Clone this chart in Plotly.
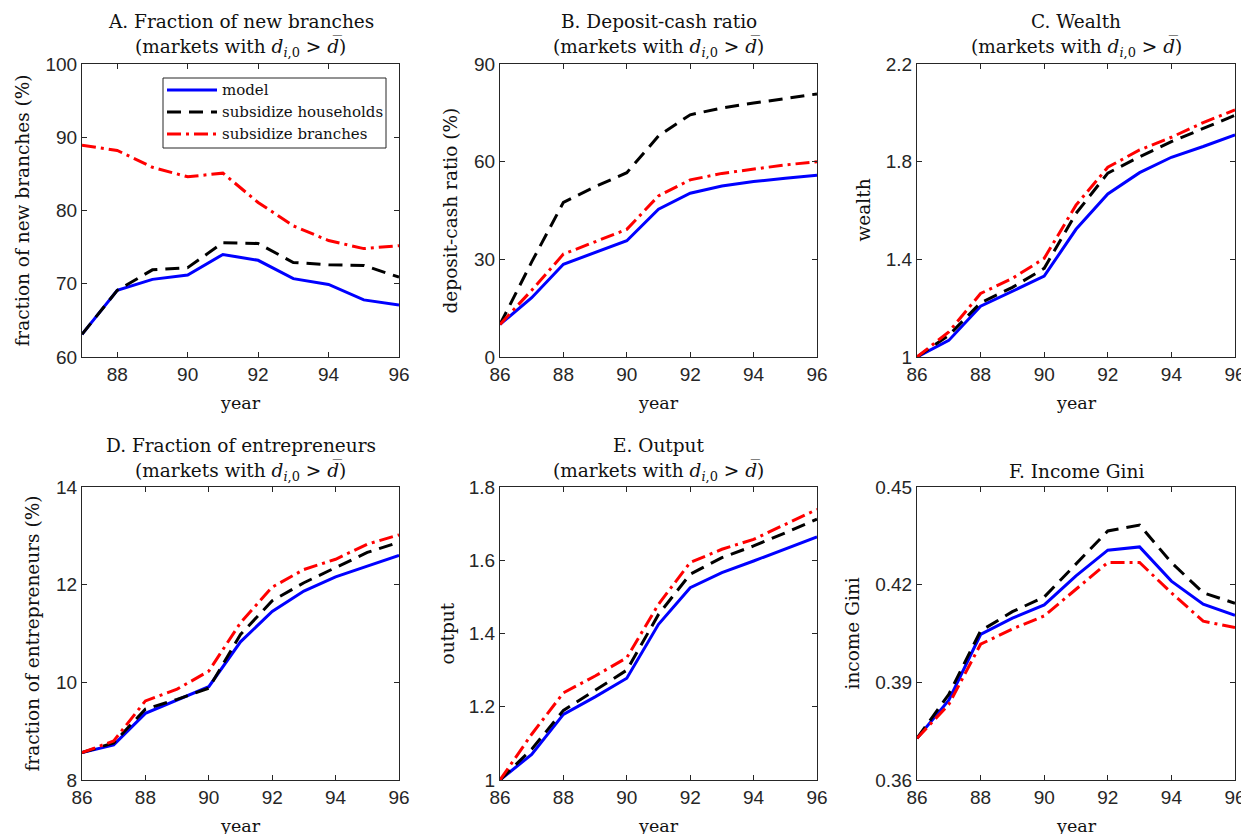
import plotly.graph_objects as go

years = list(range(86, 97))
years_a = list(range(87, 97))

# A. fraction of new branches (%), starts 87
branches_model = [63.1, 69.1, 70.6, 71.2, 74.0, 73.2, 70.7, 69.9, 67.8, 67.1]
branches_hh = [63.1, 69.1, 71.9, 72.2, 75.6, 75.5, 72.9, 72.6, 72.5, 70.9]
branches_br = [88.9, 88.2, 85.9, 84.6, 85.1, 81.1, 77.9, 75.9, 74.8, 75.2]

# B. deposit-cash ratio (%)
dep_model = [10.0, 18.2, 28.5, 32.1, 35.7, 45.4, 50.3, 52.5, 53.9, 54.9, 55.8]
dep_hh = [10.0, 29.2, 47.5, 52.3, 56.6, 67.9, 74.4, 76.5, 78.0, 79.4, 80.8]
dep_br = [10.0, 20.5, 31.6, 35.4, 39.2, 49.5, 54.4, 56.4, 57.8, 59.0, 60.0]

# C. wealth
wealth_model = [1.0, 1.068, 1.208, 1.27, 1.331, 1.523, 1.668, 1.755, 1.818, 1.862, 1.91]
wealth_hh = [1.0, 1.089, 1.222, 1.285, 1.363, 1.588, 1.753, 1.82, 1.882, 1.937, 1.99]
wealth_br = [1.0, 1.103, 1.26, 1.322, 1.404, 1.622, 1.777, 1.848, 1.9, 1.96, 2.012]

# D. fraction of entrepreneurs (%)
entr_model = [8.56, 8.72, 9.365, 9.64, 9.91, 10.83, 11.45, 11.87, 12.16, 12.38, 12.6]
entr_hh = [8.56, 8.76, 9.45, 9.65, 9.88, 10.98, 11.67, 12.04, 12.35, 12.66, 12.87]
entr_br = [8.56, 8.8, 9.62, 9.86, 10.23, 11.22, 11.95, 12.31, 12.52, 12.83, 13.02]

# E. output
out_model = [1.0, 1.07, 1.179, 1.227, 1.278, 1.425, 1.525, 1.566, 1.598, 1.63, 1.664]
out_hh = [1.0, 1.084, 1.19, 1.245, 1.3, 1.452, 1.562, 1.607, 1.639, 1.675, 1.712]
out_br = [1.0, 1.125, 1.238, 1.284, 1.334, 1.48, 1.594, 1.63, 1.657, 1.698, 1.739]

# F. income Gini
gini_model = [0.3728, 0.3845, 0.4047, 0.4097, 0.4138, 0.4227, 0.4306, 0.4316, 0.4211, 0.4140, 0.4106]
gini_hh = [0.3728, 0.3863, 0.4058, 0.4117, 0.4162, 0.4263, 0.4365, 0.4383, 0.4268, 0.4175, 0.4143]
gini_br = [0.3728, 0.3832, 0.4017, 0.4064, 0.4104, 0.4186, 0.4268, 0.4268, 0.4175, 0.4088, 0.4068]

OFF = 8  # page body margin; positions below are page pixels
W, H = 1249 - OFF, 834 - OFF
SERIF = "DejaVu Serif"
SANS = "Liberation Sans"
AXCOL = "#262626"
TXT = "#111111"
SUB = "(markets with <i>d</i><sub><i>i</i>,0</sub> &gt; <i>d&#773;</i>)"


def px(v):
    return (v - OFF) / W


def py(v):
    return 1 - (v - OFF) / H


# panel boxes in page pixels: left, right, top, bottom
boxes = [
    (82, 399, 64, 357), (500, 817, 64, 357), (917, 1235, 64, 357),
    (82, 399, 487, 780), (500, 817, 487, 780), (917, 1235, 487, 780),
]

panels = [
    dict(x=years_a, series=(branches_model, branches_hh, branches_br), xr=[87, 96],
         yr=[60, 100], dt=10, title=["A. Fraction of new branches", SUB],
         ylab="fraction of new branches (%)", ylx=22),
    dict(x=years, series=(dep_model, dep_hh, dep_br), xr=[86, 96],
         yr=[0, 90], dt=30, title=["B. Deposit-cash ratio", SUB],
         ylab="deposit-cash ratio (%)", ylx=450),
    dict(x=years, series=(wealth_model, wealth_hh, wealth_br), xr=[86, 96],
         yr=[1, 2.2], dt=0.4, title=["C. Wealth", SUB],
         ylab="wealth", ylx=863),
    dict(x=years, series=(entr_model, entr_hh, entr_br), xr=[86, 96],
         yr=[8, 14], dt=2, title=["D. Fraction of entrepreneurs", SUB],
         ylab="fraction of entrepreneurs (%)", ylx=32),
    dict(x=years, series=(out_model, out_hh, out_br), xr=[86, 96],
         yr=[1, 1.8], dt=0.2, title=["E. Output", SUB],
         ylab="output", ylx=447),
    dict(x=years, series=(gini_model, gini_hh, gini_br), xr=[86, 96],
         yr=[0.36, 0.45], dt=0.03, title=[None, "F. Income Gini"],
         ylab="income Gini", ylx=852),
]

names = ["model", "subsidize households", "subsidize branches"]
styles = [
    dict(color="#0000ff", dash="solid"),
    dict(color="#000000", dash="14px,8px"),
    dict(color="#ff0000", dash="14px,5px,3px,5px"),
]

fig = go.Figure()
annotations = []
shapes = []
layout = {}

for i, (p, box) in enumerate(zip(panels, boxes)):
    n = i + 1
    xa = "xaxis" if n == 1 else f"xaxis{n}"
    ya = "yaxis" if n == 1 else f"yaxis{n}"
    xref = "x" if n == 1 else f"x{n}"
    yref = "y" if n == 1 else f"y{n}"
    l, r, t, b = box
    for k, (ys, st) in enumerate(zip(p["series"], styles)):
        fig.add_trace(go.Scatter(
            x=p["x"], y=ys, mode="lines", name=names[k],
            line=dict(color=st["color"], dash=st["dash"], width=3),
            showlegend=False, xaxis=xref, yaxis=yref,
        ))
    axis_common = dict(
        showline=True, mirror="ticks", linecolor=AXCOL, linewidth=1,
        ticks="inside", ticklen=5, tickcolor=AXCOL, showgrid=False, zeroline=False,
        automargin=False, tickfont=dict(family=SANS, size=19, color=AXCOL),
    )
    layout[xa] = dict(axis_common, domain=[px(l), px(r)], range=p["xr"],
                      tickmode="linear", tick0=86, dtick=2, anchor=yref)
    layout[ya] = dict(axis_common, domain=[py(b), py(t)], range=p["yr"],
                      tickmode="linear", tick0=p["yr"][0], dtick=p["dt"], anchor=xref)
    cx = px((l + r) / 2)
    # title lines
    line_y = [t - 42, t - 16]
    for txt, yy in zip(p["title"], line_y):
        if txt:
            annotations.append(dict(
                text=txt, x=cx, y=py(yy), xref="paper", yref="paper",
                xanchor="center", yanchor="middle", showarrow=False,
                font=dict(family=SERIF, size=18.5, color=TXT)))
    # x label
    annotations.append(dict(
        text="year", x=cx, y=py(b + 46), xref="paper", yref="paper",
        xanchor="center", yanchor="middle", showarrow=False,
        font=dict(family=SERIF, size=17.5, color=TXT)))
    # y label
    annotations.append(dict(
        text=p["ylab"], x=px(p["ylx"]), y=py((t + b) / 2), xref="paper", yref="paper",
        xanchor="center", yanchor="middle", showarrow=False, textangle=-90,
        font=dict(family=SERIF, size=18.5, color=TXT)))

# legend box in panel A, drawn by hand to get MATLAB-like sample lengths
shapes.append(dict(type="rect", xref="paper", yref="paper",
                   x0=px(163), x1=px(386), y0=py(148), y1=py(78),
                   fillcolor="white", line=dict(color=AXCOL, width=1), layer="above"))
for k, (nm, st) in enumerate(zip(names, styles)):
    yy = 90 + 22 * k
    shapes.append(dict(type="line", xref="paper", yref="paper",
                       x0=px(167), x1=px(217), y0=py(yy), y1=py(yy),
                       line=dict(color=st["color"], dash=st["dash"], width=3), layer="above"))
    annotations.append(dict(
        text=nm, x=px(220), y=py(yy), xref="paper", yref="paper",
        xanchor="left", yanchor="middle", showarrow=False,
        font=dict(family=SERIF, size=15, color=TXT)))

fig.update_layout(
    width=W, height=H,
    margin=dict(l=0, r=0, t=0, b=0),
    paper_bgcolor="white", plot_bgcolor="white",
    annotations=annotations, shapes=shapes,
    showlegend=False,
    **layout,
)

fig.write_html("out.html")
